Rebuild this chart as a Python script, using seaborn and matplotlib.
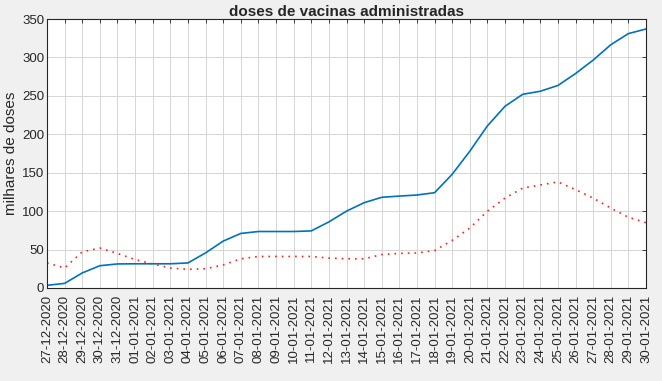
import pandas as pd
import seaborn as sns
import matplotlib.pyplot as plt
import numpy as np

# dias 27-12-2020 .. 30-01-2021
datas = pd.date_range("2020-12-27", "2021-01-30", freq="D")
rotulos = [d.strftime("%d-%m-%Y") for d in datas]

acumulado = [3.5, 6, 19.6, 29, 31.3, 31.5, 31.5, 31.5, 32.6, 45.7, 61, 71, 73.5, 73.5, 73.5, 74.3,
             86, 100, 111, 118, 119.6, 121, 124, 148, 178, 211, 236.5, 252, 256, 263.5,
             279, 296.5, 316.5, 331, 337]
media = [32.6, 26, 47, 52, 45, 37, 31.3, 26, 24.3, 25, 30, 38, 41, 41, 41, 41,
         39, 38, 38, 43.5, 45, 45.6, 48.7, 62, 78, 100, 117, 130, 134, 138,
         128, 117, 104, 92, 85]

df = pd.DataFrame({"dia": np.arange(len(datas)), "acumulado": acumulado, "media": media})

sns.set_theme(style="white")
plt.rcParams['font.family'] = ['Liberation Sans', 'DejaVu Sans']

fig = plt.figure(figsize=(6.62, 3.81), dpi=100, facecolor="#f0f0f0")
ax = fig.add_axes([47/662, 1 - 288/381, (646-47)/662, (288-19)/381])
ax.set_facecolor("white")

sns.lineplot(data=df, x="dia", y="acumulado", ax=ax, color="#0072bd", linewidth=1.2)
sns.lineplot(data=df, x="dia", y="media", ax=ax, color="#ff2020", linewidth=1.2, linestyle=(0, (1, 3)))

ax.set_xlim(0, len(datas) - 1)
ax.set_ylim(0, 350)
ax.set_xticks(df["dia"])
ax.set_xticklabels(rotulos, rotation=90, fontsize=9.5, color="#262626")
ax.set_yticks(range(0, 351, 50))
ax.tick_params(axis="y", labelsize=9.5, labelcolor="#262626", pad=2)
ax.tick_params(direction="in", length=3, top=True, right=True, color="#262626", width=0.6)
ax.tick_params(axis="x", pad=5)
ax.grid(True, color="#d0d0d0", linewidth=0.6)
for s in ax.spines.values():
    s.set_color("#262626")
    s.set_linewidth(0.8)

ax.set_xlabel("")
ax.set_ylabel("milhares de doses", fontsize=11, color="#262626", labelpad=3)
ax.set_title("doses de vacinas administradas", fontsize=11, fontweight="bold", pad=2)

plt.savefig("out.png", dpi=100, facecolor=fig.get_facecolor())
